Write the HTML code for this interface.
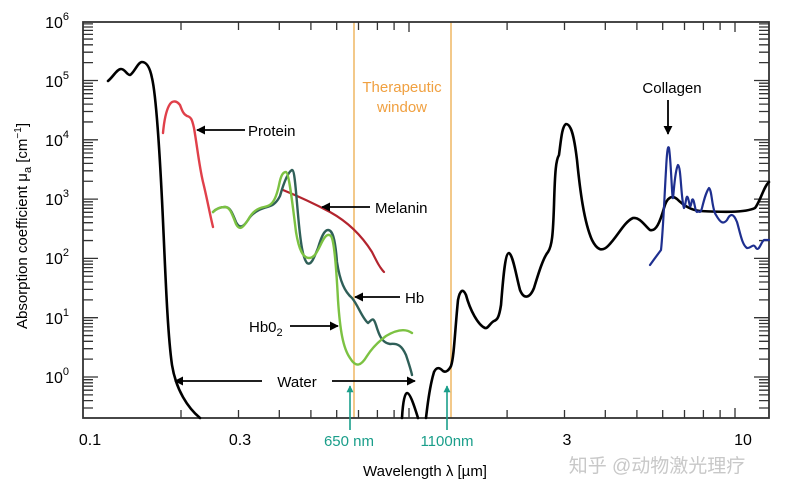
<!DOCTYPE html>
<html><head><meta charset="utf-8"><style>
html,body{margin:0;padding:0;background:#fff;}
svg{display:block;font-family:"Liberation Sans","Noto Sans CJK SC",sans-serif;}
</style></head><body>
<svg width="785" height="500" viewBox="0 0 785 500" xmlns="http://www.w3.org/2000/svg">
<defs>
<marker id="ah" viewBox="0 0 10 10" refX="9" refY="5" markerWidth="9" markerHeight="9" orient="auto" markerUnits="userSpaceOnUse"><path d="M0,0 L10,5 L0,10 z" fill="#000"/></marker>
<marker id="ag" viewBox="0 0 10 10" refX="9" refY="5" markerWidth="7" markerHeight="7" orient="auto" markerUnits="userSpaceOnUse"><path d="M0,0 L10,5 L0,10 z" fill="#1a9e8a"/></marker>
</defs>
<!-- ticks -->
<path stroke="#333" stroke-width="1.3" fill="none" d="
M83,408h10M83,400.6h10M83,394.85h10M83,390.2h10M83,386.2h10M83,382.8h10M83,379.7h10
M83,377h15M83,359.15h10M83,348.7h10M83,341.3h10M83,335.55h10M83,330.9h10M83,326.9h10M83,323.5h10M83,320.4h10
M83,317.7h15M83,299.85h10M83,289.4h10M83,282h10M83,276.25h10M83,271.6h10M83,267.6h10M83,264.2h10M83,261.1h10
M83,258.4h15M83,240.55h10M83,230.1h10M83,222.7h10M83,216.95h10M83,212.3h10M83,208.3h10M83,204.9h10M83,201.8h10
M83,199.1h15M83,181.25h10M83,170.8h10M83,163.4h10M83,157.65h10M83,153h10M83,149h10M83,145.6h10M83,142.5h10
M83,139.8h15M83,121.95h10M83,111.5h10M83,104.1h10M83,98.35h10M83,93.7h10M83,89.7h10M83,86.3h10M83,83.2h10
M83,80.5h15M83,62.65h10M83,52.2h10M83,44.8h10M83,39.05h10M83,34.4h10M83,30.4h10M83,27h10M83,23.9h10
M769,408h-10M769,400.6h-10M769,394.85h-10M769,390.2h-10M769,386.2h-10M769,382.8h-10M769,379.7h-10
M769,377h-15M769,359.15h-10M769,348.7h-10M769,341.3h-10M769,335.55h-10M769,330.9h-10M769,326.9h-10M769,323.5h-10M769,320.4h-10
M769,317.7h-15M769,299.85h-10M769,289.4h-10M769,282h-10M769,276.25h-10M769,271.6h-10M769,267.6h-10M769,264.2h-10M769,261.1h-10
M769,258.4h-15M769,240.55h-10M769,230.1h-10M769,222.7h-10M769,216.95h-10M769,212.3h-10M769,208.3h-10M769,204.9h-10M769,201.8h-10
M769,199.1h-15M769,181.25h-10M769,170.8h-10M769,163.4h-10M769,157.65h-10M769,153h-10M769,149h-10M769,145.6h-10M769,142.5h-10
M769,139.8h-15M769,121.95h-10M769,111.5h-10M769,104.1h-10M769,98.35h-10M769,93.7h-10M769,89.7h-10M769,86.3h-10M769,83.2h-10
M769,80.5h-15M769,62.65h-10M769,52.2h-10M769,44.8h-10M769,39.05h-10M769,34.4h-10M769,30.4h-10M769,27h-10M769,23.9h-10
M181,418v-8M238.5,418v-8M279.3,418v-8M310.9,418v-8M336.7,418v-8M358.5,418v-8M377.4,418v-8M394.1,418v-8M409,418v-10
M507.1,418v-8M564.5,418v-8M605.3,418v-8M636.9,418v-8M662.7,418v-8M684.5,418v-8M703.4,418v-8M720.1,418v-8M735,418v-10
M181,22v8M238.5,22v8M279.3,22v8M310.9,22v8M336.7,22v8M358.5,22v8M377.4,22v8M394.1,22v8M409,22v10
M507.1,22v8M564.5,22v8M605.3,22v8M636.9,22v8M662.7,22v8M684.5,22v8M703.4,22v8M720.1,22v8M735,22v10"/>
<!-- therapeutic window -->
<line x1="354" y1="22" x2="354" y2="418" stroke="#f3c98a" stroke-width="2"/>
<line x1="451" y1="22" x2="451" y2="418" stroke="#f3c98a" stroke-width="2"/>
<rect x="83" y="22" width="686" height="396" fill="none" stroke="#333" stroke-width="1.8"/>
<g fill="none" stroke-linejoin="round" stroke-linecap="round">
<path d="M108,81 C113,77 117,69 121,69 C125,69 127,75 130,75 C134,73 138,62 142,62 C147,62 150,68 152,78 C156,95 159,140 162,200 C165,260 167,330 172,365 C176,390 188,408 200,418" stroke="#000" stroke-width="2.6"/>
<path d="M402,418 C403,400 405,393 407,393 C410,393 414,405 418,418" stroke="#000" stroke-width="2.6"/>
<path d="M426,418 C428,400 430,385 434,372 C437,366 440,368 443,371 C446,373 449,370 451,366 C454,358 455,330 458,300 C460,290 463,288 466,295 C470,310 478,325 485,328 C488,329 490,323 494,321 C497,320 499,318 501,305 C503,280 505,253 509,253 C513,255 516,275 520,290 C524,300 530,298 534,288 C538,275 543,258 548,252 C552,246 553,235 554,205 C555,170 556,160 559,155 C561,140 562,126 566,124 C571,124 574,135 577,160 C580,190 584,222 592,240 C597,250 602,252 608,246 C618,236 624,222 633,218 C640,217 645,226 650,230 C656,232 660,222 664,208 C667,197 672,195 677,199 C683,205 690,210 700,211 C720,212 745,213 755,208 C760,202 764,186 769,182" stroke="#000" stroke-width="2.6"/>
<path d="M650,265 C655,258 658,254 661,250 C663,232 664,205 666,170 C667,150 668,145 669,148 C671,160 672,200 673,198 C674,190 675,170 678,165 C681,166 681,200 684,208 C686,205 686,193 688,198 C690,205 690,212 692,200 C694,196 695,212 697,212 C699,210 700,215 702,208 C704,200 706,192 709,188 C712,190 712,210 716,215 C720,222 723,225 727,220 C730,214 733,212 737,222 C740,232 742,245 747,248 C751,249 753,242 756,248 C759,252 761,242 764,240 C766,240 767,240 769,240" stroke="#1e2f8f" stroke-width="2.2"/>
<path d="M163,133 C164,122 166,110 170,104 C173,100 177,101 180,105 C182,110 183,114 187,116 C191,117 192,119 194,128 C197,145 199,165 203,182 C207,198 210,215 213,227" stroke="#e0404a" stroke-width="2.4"/>
<path d="M283,190 C300,197 315,204 330,212 C348,222 362,236 372,252 C377,262 380,268 384,272" stroke="#b3242e" stroke-width="2.2"/>
<path d="M213,212 C216,209 220,207 225,207 C230,207 232,212 236,222 C240,230 244,226 248,220 C252,213 258,210 264,208 C270,206 275,206 280,196 C284,182 288,172 292,170 C295,170 296,195 299,225 C301,245 303,258 307,263 C311,266 314,258 318,248 C321,238 324,230 328,230 C332,230 335,236 337,262 C340,282 345,292 352,298 C358,305 362,318 368,323 C372,320 373,316 376,325 C379,335 382,343 390,344 C398,343 402,346 406,355 C409,364 411,370 412,375" stroke="#2f5f58" stroke-width="2.4"/>
<path d="M213,212 C216,209 220,207 225,207 C230,207 232,214 236,224 C240,232 244,226 248,220 C252,212 258,208 264,207 C270,206 275,204 279,185 C281,175 283,172 286,172 C289,173 292,200 296,232 C299,250 303,258 309,258 C315,258 318,250 322,242 C325,236 328,233 331,236 C334,240 336,262 338,300 C340,330 343,348 350,358 C356,368 361,366 367,356 C372,348 378,342 386,336 C396,330 405,328 412,333" stroke="#7cc242" stroke-width="2.4"/>
</g>
<g stroke="#000" stroke-width="1.8">
<line x1="245" y1="130" x2="197" y2="130" marker-end="url(#ah)"/>
<line x1="370" y1="207" x2="322" y2="207" marker-end="url(#ah)"/>
<line x1="400" y1="297" x2="355" y2="297" marker-end="url(#ah)"/>
<line x1="290" y1="326" x2="338" y2="326" marker-end="url(#ah)"/>
<line x1="262" y1="381" x2="175" y2="381" marker-end="url(#ah)"/>
<line x1="332" y1="381" x2="415" y2="381" marker-end="url(#ah)"/>
<line x1="668" y1="100" x2="668" y2="134" marker-end="url(#ah)"/>
</g>
<g stroke="#1a9e8a" stroke-width="1.6">
<line x1="350" y1="430" x2="350" y2="386" marker-end="url(#ag)"/>
<line x1="447" y1="430" x2="447" y2="386" marker-end="url(#ag)"/>
</g>
<g font-size="15" fill="#000">
<text x="248" y="136">Protein</text>
<text x="375" y="213">Melanin</text>
<text x="405" y="303">Hb</text>
<text x="249" y="332">Hb0<tspan font-size="11" dy="4">2</tspan></text>
<text x="297" y="387" text-anchor="middle">Water</text>
<text x="672" y="93" text-anchor="middle">Collagen</text>
</g>
<g font-size="15" fill="#f0a040" text-anchor="middle">
<text x="402" y="92">Therapeutic</text>
<text x="402" y="112">window</text>
</g>
<g font-size="15" fill="#1a9e8a" text-anchor="middle">
<text x="349" y="446">650 nm</text>
<text x="447" y="446">1100nm</text>
</g>
<g font-size="16" fill="#000" text-anchor="middle">
<text x="90" y="445">0.1</text>
<text x="240" y="445">0.3</text>
<text x="567" y="445">3</text>
<text x="743" y="445">10</text>
<text x="425" y="476" font-size="15">Wavelength λ [µm]</text>
</g>
<g font-size="16" fill="#000" text-anchor="end">
<text x="69" y="383">10<tspan font-size="11" dy="-8">0</tspan></text>
<text x="69" y="324">10<tspan font-size="11" dy="-8">1</tspan></text>
<text x="69" y="264">10<tspan font-size="11" dy="-8">2</tspan></text>
<text x="69" y="205">10<tspan font-size="11" dy="-8">3</tspan></text>
<text x="69" y="146">10<tspan font-size="11" dy="-8">4</tspan></text>
<text x="69" y="87">10<tspan font-size="11" dy="-8">5</tspan></text>
<text x="69" y="28">10<tspan font-size="11" dy="-8">6</tspan></text>
</g>
<text transform="translate(27,226) rotate(-90)" font-size="15" text-anchor="middle">Absorption coefficient μ<tspan font-size="11" dy="4">a</tspan><tspan dy="-4"> [cm</tspan><tspan font-size="10" dy="-6">−1</tspan><tspan dy="6">]</tspan></text>
<text x="657" y="472" font-size="19" fill="#c8c8c8" text-anchor="middle">知乎 @动物激光理疗</text>
</svg>
</body></html>
